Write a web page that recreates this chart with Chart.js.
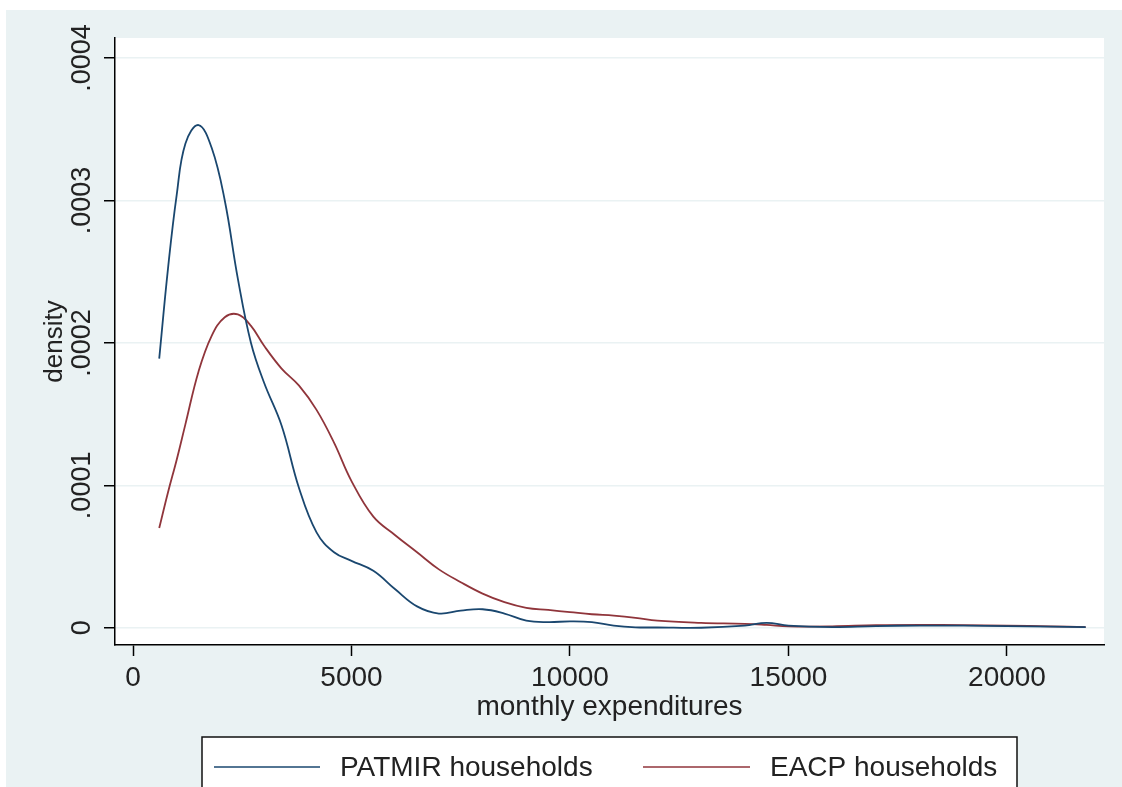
<!DOCTYPE html>
<html lang="en">
<head>
    <meta charset="UTF-8">
    <title>Monthly expenditures density</title>
    <script src="https://cdn.jsdelivr.net/npm/chart.js@4/dist/chart.umd.min.js"></script>
    <style>
        body {
            margin: 0;
            background-color: #ffffff;
            font-family: "Liberation Sans", Arial, sans-serif;
        }
        #densityChart {
            position: absolute;
            left: 6px;
            top: 10px;
            background-color: #eaf2f3;
        }
    </style>
</head>
<body>
    <canvas id="densityChart" width="1116" height="777"></canvas>

    <script>
        // monthly expenditures (x grid of the density estimates)
        const expenditures = [600, 800, 1000, 1200, 1500, 1800, 2100, 2400, 2700, 3000,
            3400, 3800, 4200, 4600, 5000, 5500, 6000, 6500, 7000, 7500,
            8000, 8500, 9000, 9500, 10000, 10500, 11000, 11500, 12000, 13000,
            14000, 14500, 15000, 16000, 17000, 18000, 19000, 20000, 21000, 21800];

        // densities, in units of 0.0001
        const patmirDensity = [1.89, 2.52, 3.04, 3.4, 3.53, 3.37, 3.0, 2.45, 2.0, 1.72,
            1.42, 0.98, 0.67, 0.53, 0.47, 0.40, 0.27, 0.15, 0.10, 0.12,
            0.13, 0.10, 0.05, 0.04, 0.045, 0.04, 0.015, 0.003, 0.002, 0.0,
            0.015, 0.035, 0.015, 0.005, 0.012, 0.015, 0.015, 0.012, 0.008, 0.004];

        const eacpDensity = [0.70, 0.95, 1.18, 1.43, 1.8, 2.05, 2.18, 2.2, 2.12, 1.98,
            1.82, 1.7, 1.53, 1.3, 1.03, 0.78, 0.65, 0.53, 0.41, 0.32,
            0.24, 0.18, 0.14, 0.125, 0.11, 0.095, 0.085, 0.07, 0.05, 0.035,
            0.028, 0.02, 0.01, 0.01, 0.018, 0.02, 0.018, 0.015, 0.01, 0.005];

        const seriesNames = ['PATMIR households', 'EACP households'];
        const xTicks = [0, 5000, 10000, 15000, 20000];
        const yTicks = [0, 0.0001, 0.0002, 0.0003, 0.0004];

        const toPoints = (vals) => vals.map((v, i) => ({ x: expenditures[i], y: v / 10000 }));

        const FONT = '"Liberation Sans", Arial, sans-serif';

        // white plot region
        const plotBackground = {
            id: 'plotBackground',
            beforeDraw(chart) {
                const { ctx, chartArea: a } = chart;
                ctx.save();
                ctx.fillStyle = '#ffffff';
                ctx.fillRect(a.left, a.top, a.right - a.left, a.bottom - a.top);
                ctx.restore();
            }
        };

        // Stata-like boxed legend under the x axis
        const boxedLegend = {
            id: 'boxedLegend',
            afterDraw(chart) {
                const ctx = chart.ctx;
                ctx.save();
                ctx.fillStyle = '#ffffff';
                ctx.fillRect(196, 727, 815, 70);
                ctx.strokeStyle = '#111';
                ctx.lineWidth = 1.5;
                ctx.strokeRect(196, 727, 815, 70);
                const items = [{ x0: 208, x1: 314, tx: 334 }, { x0: 637, x1: 744, tx: 764 }];
                ctx.font = '28px ' + FONT;
                ctx.textBaseline = 'middle';
                chart.data.datasets.forEach((ds, i) => {
                    const it = items[i];
                    ctx.strokeStyle = ds.borderColor;
                    ctx.lineWidth = 1.6;
                    ctx.beginPath();
                    ctx.moveTo(it.x0, 757);
                    ctx.lineTo(it.x1, 757);
                    ctx.stroke();
                    ctx.fillStyle = '#222';
                    ctx.fillText(ds.label, it.tx, 758);
                });
                ctx.restore();
            }
        };

        const ctx = document.getElementById('densityChart').getContext('2d');
        new Chart(ctx, {
            type: 'line',
            data: {
                datasets: [{
                    label: seriesNames[0],
                    data: toPoints(patmirDensity),
                    borderColor: '#1a476f',
                    borderWidth: 1.8,
                    pointRadius: 0,
                    tension: 0.4,
                    fill: false
                }, {
                    label: seriesNames[1],
                    data: toPoints(eacpDensity),
                    borderColor: '#90353b',
                    borderWidth: 1.8,
                    pointRadius: 0,
                    tension: 0.4,
                    fill: false
                }]
            },
            options: {
                responsive: false,
                animation: false,
                layout: {
                    padding: { left: 33, right: 18, top: 28, bottom: 62 }
                },
                plugins: {
                    legend: { display: false },
                    tooltip: { enabled: false }
                },
                scales: {
                    x: {
                        type: 'linear',
                        min: -412,
                        max: 22220,
                        afterBuildTicks: (scale) => {
                            scale.ticks = xTicks.map(v => ({ value: v }));
                        },
                        afterFit: (scale) => { scale.height = 80; },
                        border: { color: '#000', width: 1.5 },
                        grid: {
                            drawOnChartArea: false,
                            drawTicks: true,
                            tickLength: 11,
                            tickColor: '#000',
                            tickWidth: 1.5
                        },
                        ticks: {
                            color: '#222',
                            padding: 5,
                            maxRotation: 0,
                            font: { family: FONT, size: 28 },
                            callback: (v) => String(v)
                        },
                        title: {
                            display: true,
                            text: 'monthly expenditures',
                            color: '#222',
                            padding: { top: 0, bottom: 1 },
                            font: { family: FONT, size: 28 }
                        }
                    },
                    y: {
                        type: 'linear',
                        min: -0.0000121,
                        max: 0.0004141,
                        afterBuildTicks: (scale) => {
                            scale.ticks = yTicks.map(v => ({ value: v }));
                        },
                        afterFit: (scale) => { scale.width = 76; },
                        border: { color: '#000', width: 1.5 },
                        grid: {
                            color: '#eaf2f3',
                            lineWidth: 1.5,
                            drawTicks: true,
                            tickLength: 11,
                            tickColor: '#000',
                            tickWidth: 1.5
                        },
                        ticks: {
                            color: '#222',
                            padding: -12,
                            minRotation: 90,
                            maxRotation: 90,
                            crossAlign: 'center',
                            font: { family: FONT, size: 27 },
                            callback: (v) => v === 0 ? '0' : v.toFixed(4).replace(/^0/, '')
                        },
                        title: {
                            display: true,
                            text: 'density',
                            color: '#222',
                            padding: { top: 0, bottom: 0 },
                            font: { family: FONT, size: 26 }
                        }
                    }
                }
            },
            plugins: [plotBackground, boxedLegend]
        });
    </script>
</body>
</html>
